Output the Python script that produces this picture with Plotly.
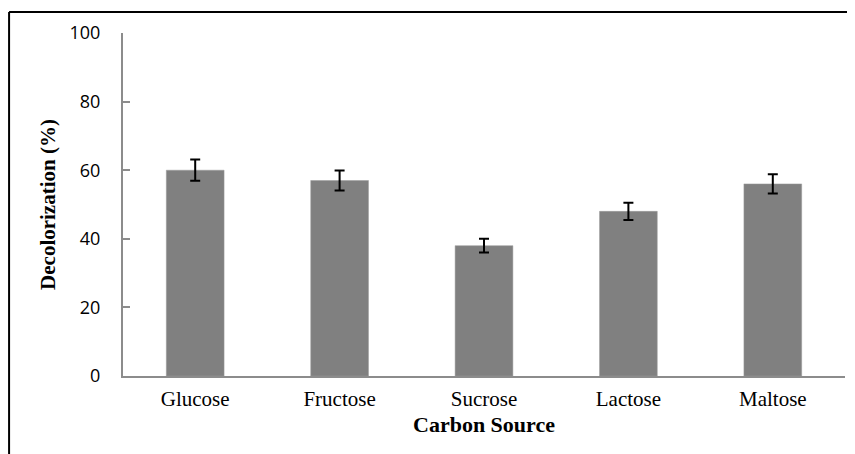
import plotly.graph_objects as go

categories = ["Glucose", "Fructose", "Sucrose", "Lactose", "Maltose"]
decolorization = [60, 57, 38, 48, 56]
errors = [3.1, 2.9, 2.0, 2.5, 2.8]
y_ticks = [0, 20, 40, 60, 80, 100]

# page has 8px body margin; figure sized to fit the window
W, H = 847, 446
L, R, T, B = 115, 9.5, 25, 78
pw, ph = W - L - R, H - T - B

def px(x):
    return (x - L) / pw

def py(y):
    return (H - B - y) / ph

fig = go.Figure()
fig.add_trace(go.Bar(
    x=categories, y=decolorization,
    marker=dict(color="#808080", line=dict(color="#9a9a9a", width=0.5)),
    width=0.4,
    error_y=dict(type="data", array=errors, visible=True,
                 color="black", thickness=2, width=5),
))

fig.update_layout(
    width=W, height=H,
    margin=dict(l=L, r=R, t=T, b=B),
    paper_bgcolor="white", plot_bgcolor="white",
    showlegend=False,
    xaxis=dict(
        showline=True, linecolor="#8c8c8c", linewidth=2,
        ticks="", showgrid=False,
        tickfont=dict(family="Liberation Serif", size=21, color="black"),
        ticklabelstandoff=3,
        title=dict(text="<b>Carbon Source</b>",
                   font=dict(family="Liberation Serif", size=22, color="black"),
                   standoff=6),
    ),
    yaxis=dict(
        range=[0, 100], tickvals=y_ticks,
        showline=True, linecolor="#8c8c8c", linewidth=2,
        ticks="inside", ticklen=7, tickwidth=1.5, tickcolor="#8c8c8c",
        showgrid=False, zeroline=False,
        tickfont=dict(family="Open Sans", size=18, color="black"),
        ticklabelstandoff=17,
        title=dict(text="<b>Decolorization (%)</b>",
                   font=dict(family="Liberation Serif", size=21, color="black"),
                   standoff=8),
    ),
)

# outer frame (top and left edges visible)
fig.add_shape(type="line", xref="paper", yref="paper",
              x0=px(1), x1=px(W + 5), y0=py(4), y1=py(4),
              line=dict(color="black", width=2))
fig.add_shape(type="line", xref="paper", yref="paper",
              x0=px(1), x1=px(1), y0=py(4), y1=py(H + 5),
              line=dict(color="black", width=2))

fig.write_html("out.html")
